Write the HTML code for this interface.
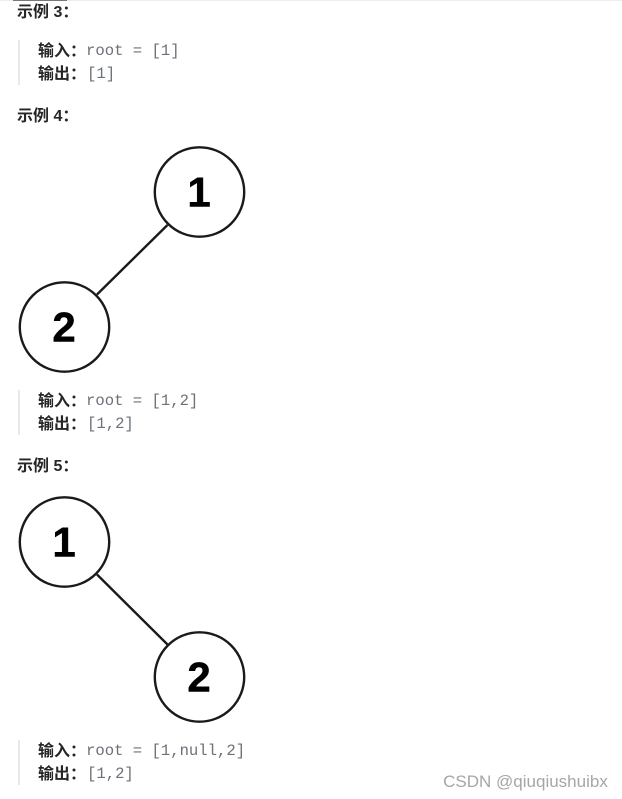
<!DOCTYPE html>
<html><head><meta charset="utf-8"><style>
html,body{margin:0;padding:0;background:#fff}
#p{position:relative;width:622px;height:799px;overflow:hidden;background:#fff;font-family:"Liberation Sans","Noto Sans CJK SC",sans-serif}
.t{position:absolute;white-space:pre;line-height:20px;color:#262626}
.b{font-weight:700;font-size:16px}
.m{font-family:"Liberation Mono",monospace;font-size:15.6px;font-weight:400;color:#6b7178}
.bar{position:absolute;left:18px;width:2px;background:#e8e8e8}
</style></head><body><div id="p">
<div style="position:absolute;left:0;top:0;width:622px;height:1px;background:#eee"></div>
<div style="position:absolute;left:13px;top:0;width:54px;height:1px;background:#777"></div>
<div class="t b" style="left:17px;top:3px">示例 3：</div>
<div class="bar" style="top:40px;height:45px"></div>
<div class="t b" style="left:38px;top:42px">输入：</div><div class="t m" style="left:86px;top:41px">root = [1]</div>
<div class="t b" style="left:38px;top:65px">输出：</div><div class="t m" style="left:87px;top:64px">[1]</div>
<div class="t b" style="left:17px;top:107px">示例 4：</div>
<div class="bar" style="top:390px;height:45px"></div>
<div class="t b" style="left:38px;top:392px">输入：</div><div class="t m" style="left:86px;top:391px">root = [1,2]</div>
<div class="t b" style="left:38px;top:415px">输出：</div><div class="t m" style="left:87px;top:414px">[1,2]</div>
<div class="t b" style="left:17px;top:457px">示例 5：</div>
<div class="bar" style="top:740px;height:45px"></div>
<div class="t b" style="left:38px;top:742px">输入：</div><div class="t m" style="left:86px;top:741px">root = [1,null,2]</div>
<div class="t b" style="left:38px;top:765px">输出：</div><div class="t m" style="left:87px;top:764px">[1,2]</div>
<svg style="position:absolute;left:0;top:0" width="622" height="799" font-family="Liberation Sans, sans-serif" font-weight="700" font-size="42" text-anchor="middle" fill="#000">
<g fill="none" stroke="#1a1a1a" stroke-width="2.4">
<circle cx="199.500" cy="192" r="44.700"/><circle cx="64.500" cy="327" r="44.700"/>
<line x1="167.500" y1="225" x2="97" y2="294.500"/>
<circle cx="64.500" cy="542" r="44.700"/><circle cx="199.500" cy="677" r="44.700"/>
<line x1="97" y1="574.500" x2="167.500" y2="644.500"/>
</g>
<g stroke="#000" stroke-width="0.5">
<text x="199" y="206.500">1</text><text x="64" y="341.500">2</text>
<text x="64" y="556.500">1</text><text x="199" y="691.500">2</text>
</g>
<text x="525.500" y="787" font-size="17" font-weight="400" fill="#a6a6a6">CSDN @qiuqiushuibx</text>
</svg>
</div></body></html>
